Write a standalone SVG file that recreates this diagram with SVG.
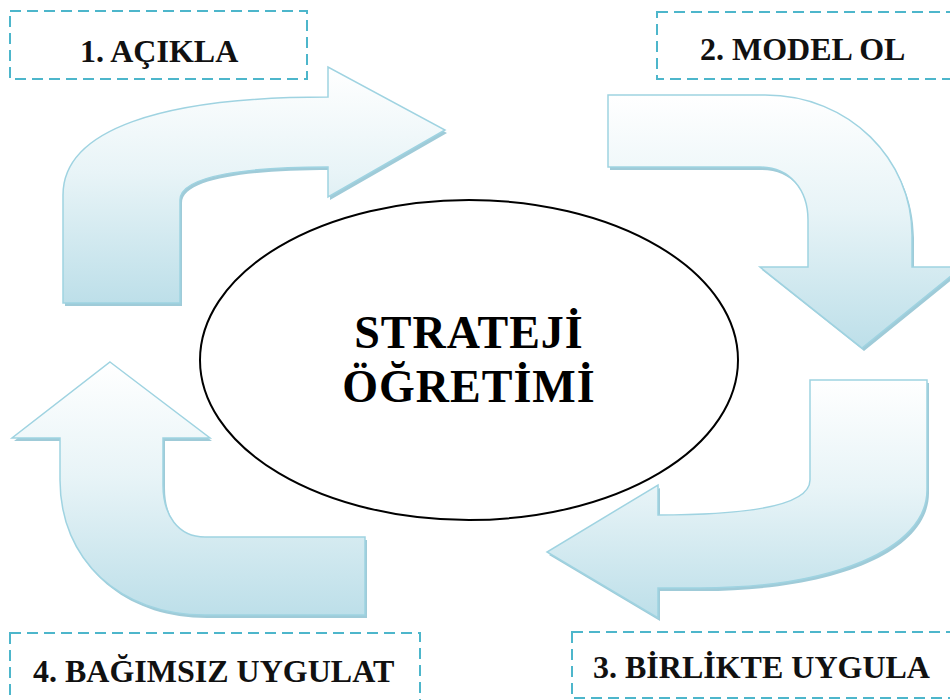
<svg xmlns="http://www.w3.org/2000/svg" width="950" height="700" viewBox="0 0 950 700">
<style>
.lbl{fill:#ffffff;stroke:#4db6cb;stroke-width:2;stroke-dasharray:11 6}
.lt{font-family:"Liberation Serif","Times New Roman",serif;font-weight:bold;font-size:32px;fill:#111}
.arrow{fill:url(#g);stroke:#9fd3e1;stroke-width:1.5;stroke-linejoin:miter}
.shadow{fill:#9fcbd8}
.ct{font-family:"Liberation Serif","Times New Roman",serif;font-weight:bold;font-size:46px;fill:#000;text-anchor:middle;letter-spacing:1px}
</style>
<defs>
<linearGradient id="g" x1="0" y1="0" x2="0" y2="1">
<stop offset="0" stop-color="#ffffff"/>
<stop offset="0.45" stop-color="#e8f4f7"/>
<stop offset="1" stop-color="#bddfe9"/>
</linearGradient>
</defs>
<rect width="950" height="700" fill="#ffffff"/>

<g id="connectors">
<g id="arrow1">
<path class="shadow" transform="translate(2,3)" d="M63,303 L63,195 C63,130 160,97 328,97 L328,67 L445,130 L328,197 L328,167 C250,167 180,175 180,200 L180,303 Z"/>
<path class="arrow" d="M63,303 L63,195 C63,130 160,97 328,97 L328,67 L445,130 L328,197 L328,167 C250,167 180,175 180,200 L180,303 Z"/>
</g>
<g id="arrow2">
<path class="shadow" transform="translate(2,3)" d="M608,95 L765,95 C850,95 912,160 912,235 L912,267 L962,267 L862,348 L760,267 L808,267 L808,220 C808,190 790,167 760,167 L608,167 Z"/>
<path class="arrow" d="M608,95 L765,95 C850,95 912,160 912,235 L912,267 L962,267 L862,348 L760,267 L808,267 L808,220 C808,190 790,167 760,167 L608,167 Z"/>
</g>
<g id="arrow3">
<path class="shadow" transform="translate(2,3)" d="M810,380 L927,380 L927,490 C927,550 830,588 700,588 L658,588 L658,618 L547,552 L658,485 L658,515 C750,515 810,505 810,480 Z"/>
<path class="arrow" d="M810,380 L927,380 L927,490 C927,550 830,588 700,588 L658,588 L658,618 L547,552 L658,485 L658,515 C750,515 810,505 810,480 Z"/>
</g>
<g id="arrow4">
<path class="shadow" transform="translate(2,3)" d="M110,362 L210,438 L163,438 L163,485 C163,515 178,537 205,537 L365,537 L365,615 L205,615 C120,615 60,560 60,480 L60,438 L12,438 Z"/>
<path class="arrow" d="M110,362 L210,438 L163,438 L163,485 C163,515 178,537 205,537 L365,537 L365,615 L205,615 C120,615 60,560 60,480 L60,438 L12,438 Z"/>
</g>
</g>

<g id="center">
<ellipse cx="469" cy="360" rx="269" ry="160" fill="#ffffff" stroke="#000" stroke-width="2"/>
<text class="ct" x="469" y="348">STRATEJİ</text>
<text class="ct" x="469" y="402">ÖĞRETİMİ</text>
</g>

<g id="step1">
<rect class="lbl" x="10" y="11" width="297" height="68"/>
<text class="lt" x="80" y="62">1. AÇIKLA</text>
</g>
<g id="step2">
<rect class="lbl" x="657" y="12" width="310" height="67"/>
<text class="lt" x="700" y="60">2. MODEL OL</text>
</g>
<g id="step3">
<rect class="lbl" x="572" y="632" width="390" height="66"/>
<text class="lt" x="593" y="678">3. BİRLİKTE UYGULA</text>
</g>
<g id="step4">
<rect class="lbl" x="10" y="633" width="410" height="80"/>
<text class="lt" x="33" y="682">4. BAĞIMSIZ UYGULAT</text>
</g>
</svg>
